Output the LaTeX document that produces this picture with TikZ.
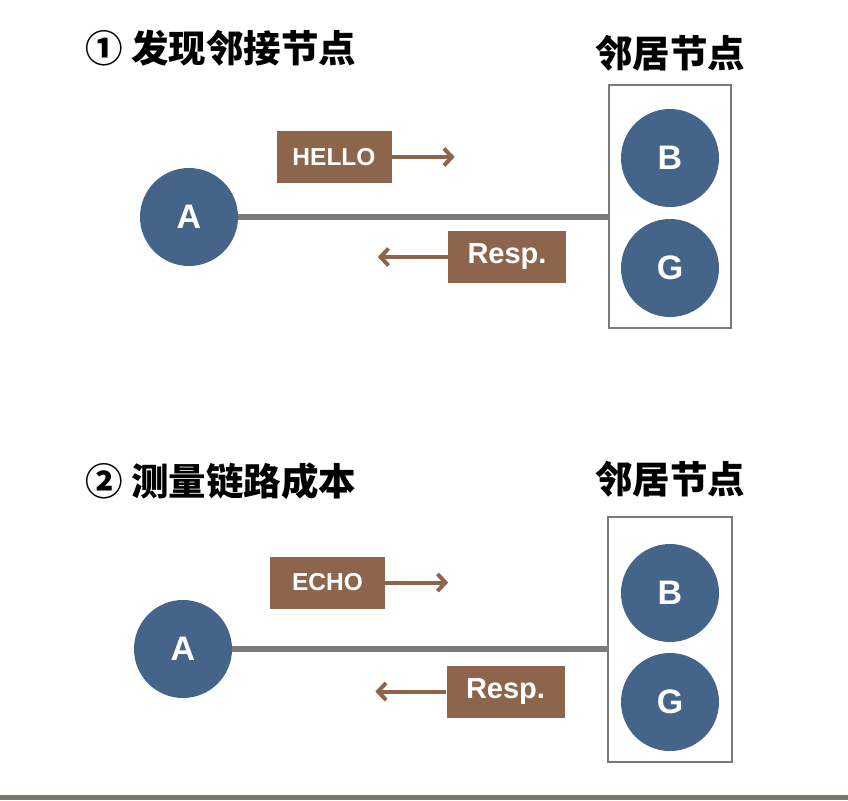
\documentclass[tikz,border=0pt]{standalone}
\usepackage{fontspec}
\setmainfont{Liberation Sans}
\newfontfamily\cjk{Noto Sans CJK SC}
\usetikzlibrary{arrows.meta}

\definecolor{peerblue}{HTML}{45648A}
\definecolor{msgbrown}{HTML}{8C654C}
\definecolor{linkgray}{HTML}{7A7A7A}
\definecolor{bargray}{HTML}{78786F}

\tikzset{
  peer/.style={circle, fill=peerblue, minimum size=98pt, inner sep=0pt,
    text=white, font=\fontsize{34}{34}\selectfont\bfseries},
  msgbox/.style={fill=msgbrown, text=white, minimum width=115pt,
    minimum height=52pt, inner sep=0pt},
  nbrbox/.style={draw=linkgray, line width=1.5pt, minimum width=122pt,
    minimum height=243pt, inner sep=0pt},
  heading/.style={inner sep=0pt, font=\cjk\bfseries\fontsize{37.5}{37.5}\selectfont},
  link/.style={draw=linkgray, line width=5.5pt},
  flow/.style={draw=msgbrown, line width=4pt,
    -{Straight Barb[length=8pt, width=17pt]}},
}

\begin{document}
\begin{tikzpicture}[x=1pt, y=-1pt]
  \useasboundingbox (0,0) rectangle (848,800);

  % Part 1: discover neighbours
  \node[heading, anchor=west] (t1) at (85,48) {① 发现邻接节点};
  \node[heading] (n1) at (670,53) {邻居节点};
  \node[nbrbox] (grp1) at (670,206.5) {};
  \node[peer] (b1) at (670,158) {B};
  \node[peer] (g1) at (670,268) {G};
  \node[peer] (a1) at (189,217) {A};
  \draw[link] (a1.east) -- (a1.east -| grp1.west);
  \node[msgbox, font=\fontsize{24.5}{24.5}\selectfont\bfseries] (hello) at (334,157) {HELLO};
  \draw[flow] (hello.east) -- ++(63,0);
  \node[msgbox, minimum width=118pt, font=\fontsize{29}{29}\selectfont\bfseries] (resp1) at (507,257) {Resp.};
  \draw[flow] (resp1.west) -- ++(-70,0);

  % Part 2: measure link cost
  \node[heading, anchor=west] (t2) at (85,481) {② 测量链路成本};
  \node[heading] (n2) at (670,479) {邻居节点};
  \node[nbrbox, minimum width=124pt, minimum height=245pt] (grp2) at (670,639.5) {};
  \node[peer] (b2) at (670,593) {B};
  \node[peer] (g2) at (670,702) {G};
  \node[peer] (a2) at (183,649) {A};
  \draw[link] (a2.east) -- (a2.east -| grp2.west);
  \node[msgbox, font=\fontsize{24.5}{24.5}\selectfont\bfseries] (echo) at (327.5,582.5) {ECHO};
  \draw[flow] (echo.east) -- ++(63,0);
  \node[msgbox, minimum width=118pt, font=\fontsize{29}{29}\selectfont\bfseries] (resp2) at (505.5,691.5) {Resp.};
  \draw[flow] (resp2.west) -- ++(-71,0);

  % bottom bar
  \fill[bargray] (0,795) rectangle (848,800);
\end{tikzpicture}
\end{document}
